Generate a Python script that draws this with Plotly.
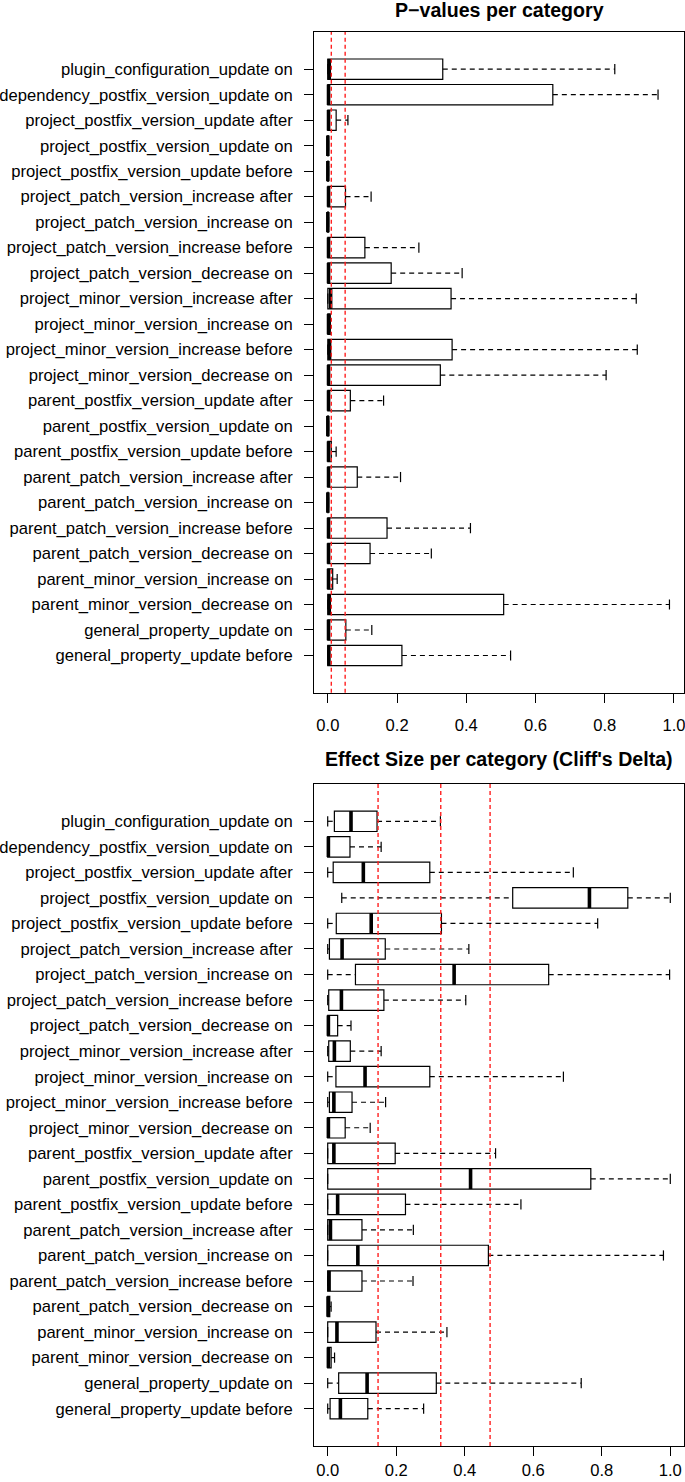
import plotly.graph_objects as go
from plotly.subplots import make_subplots

# Categories, bottom to top
categories = [
    "general_property_update before",
    "general_property_update on",
    "parent_minor_version_decrease on",
    "parent_minor_version_increase on",
    "parent_patch_version_decrease on",
    "parent_patch_version_increase before",
    "parent_patch_version_increase on",
    "parent_patch_version_increase after",
    "parent_postfix_version_update before",
    "parent_postfix_version_update on",
    "parent_postfix_version_update after",
    "project_minor_version_decrease on",
    "project_minor_version_increase before",
    "project_minor_version_increase on",
    "project_minor_version_increase after",
    "project_patch_version_decrease on",
    "project_patch_version_increase before",
    "project_patch_version_increase on",
    "project_patch_version_increase after",
    "project_postfix_version_update before",
    "project_postfix_version_update on",
    "project_postfix_version_update after",
    "dependency_postfix_version_update on",
    "plugin_configuration_update on",
]

# P-values box statistics
p_min = [0.0] * 24
p_q1 = [0.0] * 24
p_med = [0.003, 0.002, 0.004, 0.002, 0.002, 0.002, 0.0, 0.002, 0.002, 0.0, 0.002, 0.002,
         0.005, 0.002, 0.008, 0.002, 0.002, 0.0, 0.002, 0.0, 0.0, 0.002, 0.002, 0.004]
p_q3 = [0.214, 0.052, 0.508, 0.014, 0.122, 0.171, 0.001, 0.085, 0.010, 0.001, 0.065, 0.325,
        0.359, 0.007, 0.356, 0.183, 0.107, 0.001, 0.051, 0.001, 0.001, 0.024, 0.650, 0.332]
p_max = [0.528, 0.127, 0.987, 0.027, 0.299, 0.412, 0.002, 0.210, 0.024, 0.002, 0.161, 0.804,
         0.894, 0.007, 0.891, 0.388, 0.263, 0.002, 0.125, 0.002, 0.002, 0.058, 0.954, 0.829]

# Cliff's delta box statistics
d_min = [0.0, 0.0, 0.0, 0.0, 0.0, 0.0, 0.0, 0.0, 0.0, 0.0, 0.0, 0.0,
         0.0, 0.0, 0.0, 0.0, 0.0, 0.0, 0.0, 0.0, 0.041, 0.0, 0.0, 0.0]
d_q1 = [0.007, 0.032, 0.0, 0.0, 0.0, 0.0, 0.0, 0.0, 0.0, 0.0, 0.0, 0.0,
        0.005, 0.024, 0.003, 0.0, 0.003, 0.081, 0.005, 0.025, 0.540, 0.016, 0.0, 0.0195]
d_med = [0.037, 0.115, 0.002, 0.027, 0.001, 0.004, 0.088, 0.008, 0.029, 0.417, 0.018, 0.002,
         0.018, 0.109, 0.0195, 0.002, 0.040, 0.369, 0.042, 0.127, 0.764, 0.104, 0.002, 0.068]
d_q3 = [0.117, 0.317, 0.010, 0.141, 0.006, 0.100, 0.469, 0.100, 0.227, 0.768, 0.197, 0.051,
        0.071, 0.298, 0.066, 0.029, 0.164, 0.645, 0.168, 0.332, 0.876, 0.298, 0.065, 0.144]
d_max = [0.280, 0.740, 0.020, 0.348, 0.010, 0.249, 0.980, 0.250, 0.564, 1.000, 0.490, 0.124,
         0.169, 0.688, 0.156, 0.068, 0.403, 0.998, 0.412, 0.788, 1.000, 0.717, 0.156, 0.329]

p_thresholds = [0.01, 0.05]
d_thresholds = [0.147, 0.33, 0.474]

titles = ["P\u2212values per category", "Effect Size per category (Cliff's Delta)"]
x_ticks = [0.0, 0.2, 0.4, 0.6, 0.8, 1.0]

FONT = "Liberation Sans, Arial, Helvetica, sans-serif"
FS = 16.6
BOXW = 0.8
CAP = 0.2

pos = list(range(len(categories)))

fig = make_subplots(rows=2, cols=1)


def add_panel(row, mn, q1, med, q3, mx, thresholds):
    fig.add_trace(go.Box(
        y=pos, q1=q1, median=med, q3=q3, lowerfence=q1, upperfence=q3,
        orientation="h", width=BOXW, fillcolor="white",
        line=dict(color="black", width=1.2), whiskerwidth=0,
        boxpoints=False, showlegend=False, hoverinfo="skip"), row=row, col=1)
    # whiskers (dashed)
    wx, wy = [], []
    for p, a, b, c, d in zip(pos, mn, q1, q3, mx):
        if b > a:
            wx += [a, b, None]
            wy += [p, p, None]
        if d > c:
            wx += [c, d, None]
            wy += [p, p, None]
    fig.add_trace(go.Scatter(x=wx, y=wy, mode="lines",
                             line=dict(color="black", width=1.2, dash="5px,4px"),
                             showlegend=False, hoverinfo="skip"), row=row, col=1)
    # staples
    sx, sy = [], []
    for p, a, d in zip(pos, mn, mx):
        sx += [a, a, None, d, d, None]
        sy += [p - CAP, p + CAP, None, p - CAP, p + CAP, None]
    fig.add_trace(go.Scatter(x=sx, y=sy, mode="lines",
                             line=dict(color="black", width=1.2),
                             showlegend=False, hoverinfo="skip"), row=row, col=1)
    # thick medians
    mxs, mys = [], []
    for p, m in zip(pos, med):
        mxs += [m, m, None]
        mys += [p - BOXW / 2, p + BOXW / 2, None]
    fig.add_trace(go.Scatter(x=mxs, y=mys, mode="lines",
                             line=dict(color="black", width=3.6),
                             showlegend=False, hoverinfo="skip"), row=row, col=1)
    for t in thresholds:
        fig.add_vline(x=t, line=dict(color="#ff2020", width=1.4, dash="4px,3px"),
                      layer="above", row=row, col=1)


add_panel(1, p_min, p_q1, p_med, p_q3, p_max, p_thresholds)
add_panel(2, d_min, d_q1, d_med, d_q3, d_max, d_thresholds)

H = 1482
top_px, bot_px = 32, 1446
ph = bot_px - top_px


def yp(px):
    return (bot_px - px) / ph


axis_common = dict(showline=True, mirror=True, linecolor="black", linewidth=1,
                   showgrid=False, zeroline=False, ticks="outside", ticklen=9,
                   tickcolor="black", tickwidth=1, automargin=False,
                   ticklabeloverflow="allow",
                   tickfont=dict(family=FONT, size=FS, color="black"))

fig.update_layout(
    width=685, height=H,
    margin=dict(l=314, r=1, t=top_px, b=H - bot_px),
    paper_bgcolor="white", plot_bgcolor="white",
    font=dict(family=FONT, size=FS, color="black"),
    showlegend=False,
    xaxis=dict(range=[-0.04, 1.029], tickvals=x_ticks, tickformat=".1f",
               ticklabelstandoff=8, **axis_common),
    xaxis2=dict(range=[-0.04, 1.04], tickvals=x_ticks, tickformat=".1f",
                ticklabelstandoff=0, **axis_common),
    yaxis=dict(domain=[yp(692.7), 1.0], range=[-1.46, 24.46], tickvals=pos,
               ticktext=categories, ticklabelstandoff=8, **axis_common),
    yaxis2=dict(domain=[0.0, yp(784)], range=[-1.46, 24.46], tickvals=pos,
                ticktext=categories, ticklabelstandoff=8, **axis_common),
)

fig.add_annotation(text="<b>" + titles[0] + "</b>", xref="x domain", yref="paper",
                   x=0.5, y=yp(10.5), xanchor="center", yanchor="middle", showarrow=False,
                   font=dict(family=FONT, size=19.6, color="black"))
fig.add_annotation(text="<b>" + titles[1] + "</b>", xref="x2 domain", yref="paper",
                   x=0.5, y=yp(759), xanchor="center", yanchor="middle", showarrow=False,
                   font=dict(family=FONT, size=19.6, color="black"))

fig.write_html("out.html", config={"displayModeBar": False},
               post_script="document.body.style.margin='0';")
